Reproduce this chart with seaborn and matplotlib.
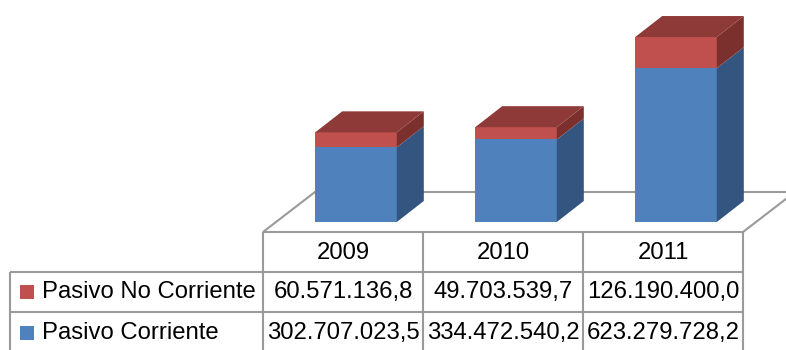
import matplotlib
matplotlib.use('Agg')
import matplotlib.pyplot as plt
import seaborn as sns
import pandas as pd
from matplotlib.patches import Polygon, Rectangle
from matplotlib.transforms import IdentityTransform

# ---- data ----
years = ['2009', '2010', '2011']
pasivo_no_corriente = [60571136.8, 49703539.7, 126190400.0]
pasivo_corriente = [302707023.5, 334472540.2, 623279728.2]
series_labels = ['Pasivo No Corriente', 'Pasivo Corriente']

# ---- style ----
BLUE, BLUE_SIDE = '#4F81BD', '#34557F'
RED, RED_SIDE, RED_TOP = '#C0504D', '#7B302E', '#8E3A38'
GRID = '#9A9A9A'
FS = 17.2

sns.set_theme(style='white')
plt.rcParams['font.family'] = ['Liberation Sans', 'DejaVu Sans']

W, H = 786, 350
fig = plt.figure(figsize=(W / 100, H / 100), dpi=100)
fig.patch.set_facecolor('white')

# background axes in pixel coordinates (floor + data table)
bg = fig.add_axes([0, 0, 1, 1], zorder=1)
bg.set_xlim(0, W)
bg.set_ylim(H, 0)
bg.axis('off')

# bar axes
ax = fig.add_axes([276 / W, 1 - 222 / H, 480 / W, 212 / H], zorder=2)
ax.set_facecolor('none')

totals = [a + b for a, b in zip(pasivo_no_corriente, pasivo_corriente)]
df = pd.DataFrame({'year': years, 'total': totals, 'corriente': pasivo_corriente})
sns.barplot(data=df, x='year', y='total', color=RED, width=0.51, saturation=1,
            errorbar=None, ax=ax, linewidth=0)
sns.barplot(data=df, x='year', y='corriente', color=BLUE, width=0.51, saturation=1,
            errorbar=None, ax=ax, linewidth=0)
ax.set_xlim(-0.5, 2.5)
ax.set_ylim(0, 859e6)
ax.axis('off')

# 3D depth faces derived from the bar patches
DX, DY = 27, 21
n = len(years)
red_p = ax.patches[:n]
blue_p = ax.patches[n:2 * n]
T = ax.transData
for rp, bp in zip(red_p, blue_p):
    x0, x1 = rp.get_x(), rp.get_x() + rp.get_width()
    (X0, Y0) = T.transform((x0, 0))
    (X1, Yb) = T.transform((x1, bp.get_height()))
    (_, Yt) = T.transform((x1, rp.get_height()))
    side_b = [(X1, Y0), (X1 + DX, Y0 + DY), (X1 + DX, Yb + DY), (X1, Yb)]
    side_r = [(X1, Yb), (X1 + DX, Yb + DY), (X1 + DX, Yt + DY), (X1, Yt)]
    top = [(X0, Yt), (X1, Yt), (X1 + DX, Yt + DY), (X0 + DX, Yt + DY)]
    for pts, c in ((side_b, BLUE_SIDE), (side_r, RED_SIDE), (top, RED_TOP)):
        ax.add_patch(Polygon(pts, closed=True, facecolor=c, edgecolor='none',
                             transform=IdentityTransform(), clip_on=False))

# floor
floor = [(263, 232), (743, 232), (795, 192), (315, 192)]
bg.add_patch(Polygon(floor, closed=True, facecolor='white', edgecolor=GRID, lw=1.5))

# table
cols = [263, 423, 583, 743]
for x in cols:
    bg.plot([x, x], [232, 272], color=GRID, lw=1.5, solid_capstyle='butt')
for x in [10] + cols:
    bg.plot([x, x], [272, 352], color=GRID, lw=1.5, solid_capstyle='butt')
for y in (272, 312):
    bg.plot([10, 743], [y, y], color=GRID, lw=1.5, solid_capstyle='butt')


def fmt(v):
    s = f"{v:,.1f}"
    return s.replace(',', 'X').replace('.', ',').replace('X', '.')


centers = [(cols[i] + cols[i + 1]) / 2 for i in range(n)]
for cx, yr in zip(centers, years):
    bg.text(cx, 253, yr, ha='center', va='center', fontsize=FS, color='black')

rows = [(292, series_labels[0], RED, pasivo_no_corriente),
        (333, series_labels[1], BLUE, pasivo_corriente)]
for cy, lab, col, vals in rows:
    bg.add_patch(Rectangle((20, cy - 7), 14, 14, facecolor=col, edgecolor='none'))
    bg.text(42, cy, lab, ha='left', va='center', fontsize=FS, color='black')
    for cx, v in zip(centers, vals):
        bg.text(cx, cy, fmt(v), ha='center', va='center', fontsize=FS, color='black')

fig.savefig('out.png', dpi=100, facecolor='white')
